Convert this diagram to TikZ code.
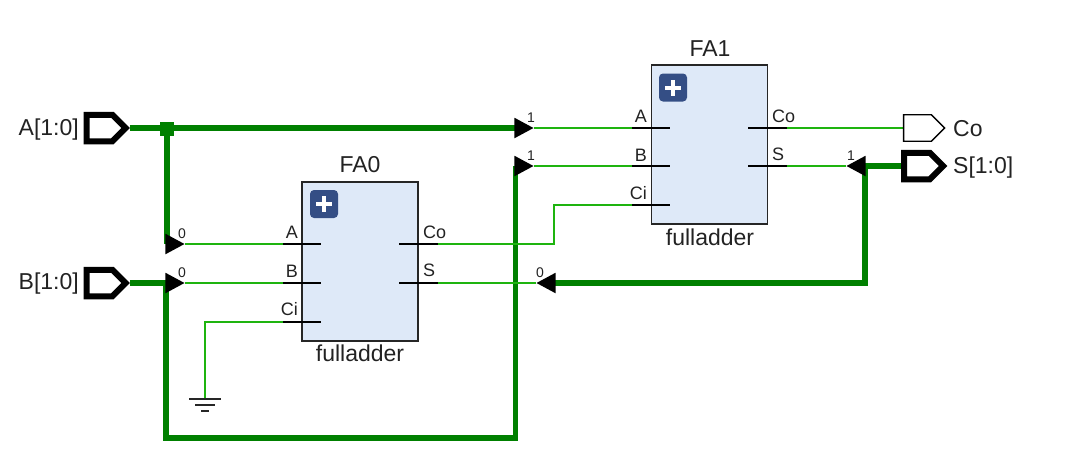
\documentclass[tikz,border=0pt]{standalone}
\usepackage{fontspec}
\setmainfont{Liberation Sans}
\usetikzlibrary{shapes.geometric,shapes.symbols,backgrounds}

\definecolor{busgreen}{RGB}{0,128,0}
\definecolor{wiregreen}{RGB}{30,180,15}
\definecolor{blockblue}{RGB}{222,233,248}
\definecolor{iconblue}{RGB}{52,78,133}
\definecolor{labelgray}{RGB}{34,34,34}

\tikzset{
 bus/.style={line width=5.5pt,color=busgreen},
 wire/.style={line width=2pt,color=wiregreen},
 pinline/.style={line width=2pt,color=black},
 block/.style={draw=black!85,line width=1.6pt,fill=blockblue,inner sep=0pt,minimum width=116pt,minimum height=159pt},
 port/.style={signal,signal to=east,signal from=nowhere,signal pointer angle=90,draw=black,fill=white,inner sep=0pt,minimum height=26.5pt},
 busport/.style={port,line width=6pt,minimum width=39pt},
 wireport/.style={port,line width=1.4pt,minimum width=41pt},
 rip/.style={isosceles triangle,isosceles triangle stretches,fill=black,inner sep=0pt,minimum width=20.5pt,minimum height=19pt},
 junc/.style={rectangle,fill=busgreen,inner sep=0pt,minimum size=14pt},
 icon/.style={rectangle,rounded corners=4pt,fill=iconblue,inner sep=0pt,minimum size=28pt},
 plusbar/.style={line width=4pt,color=white},
 gnd/.style={line width=1.6pt,color=black!85},
 toplabel/.style={color=labelgray,font=\fontsize{23}{24}\selectfont,inner sep=0pt},
 portlabel/.style={color=labelgray,font=\fontsize{23}{24}\selectfont,inner sep=0pt},
 pinlabel/.style={color=labelgray,font=\fontsize{18}{18}\selectfont,inner sep=0pt},
 indexlabel/.style={color=labelgray,font=\fontsize{14}{14}\selectfont,inner sep=0pt}
}

\begin{document}
\begin{tikzpicture}[x=1pt,y=-1pt]
 \useasboundingbox (0,0) rectangle (1087,472);

 % blocks
 \node[block] (fa0) at (360,261.5) {};
 \node[block] (fa1) at (709.5,144.5) {};
 \node[toplabel] (fa0name) at (360,165) {FA0};
 \node[toplabel] (fa1name) at (710,49) {FA1};
 \node[toplabel] (fa0type) at (360,353) {fulladder};
 \node[toplabel] (fa1type) at (710,237) {fulladder};

 % plus icons
 \node[icon] (fa0icon) at (324,204) {};
 \node[icon] (fa1icon) at (673,87.5) {};
 \draw[plusbar] ([xshift=-8pt]fa0icon.center) -- ([xshift=8pt]fa0icon.center);
 \draw[plusbar] ([yshift=-8pt]fa0icon.center) -- ([yshift=8pt]fa0icon.center);
 \draw[plusbar] ([xshift=-8pt]fa1icon.center) -- ([xshift=8pt]fa1icon.center);
 \draw[plusbar] ([yshift=-8pt]fa1icon.center) -- ([yshift=8pt]fa1icon.center);

 % pin ends
 \coordinate (fa0a) at (283,244);
 \coordinate (fa0b) at (283,283);
 \coordinate (fa0ci) at (283,322);
 \coordinate (fa0co) at (438,244);
 \coordinate (fa0s) at (438,283);
 \coordinate (fa1a) at (632,128);
 \coordinate (fa1b) at (632,166);
 \coordinate (fa1ci) at (632,205);
 \coordinate (fa1co) at (787,128);
 \coordinate (fa1s) at (787,166);

 % ports
 \node[busport] (porta) at (99.5,128) {};
 \node[busport] (portb) at (99.5,283) {};
 \node[wireport] (portco) at (917.5,128) {};
 \node[busport] (ports) at (917,166) {};
 \node[portlabel,anchor=east] (portalabel) at (79,130) {A[1:0]};
 \node[portlabel,anchor=east] (portblabel) at (79,284) {B[1:0]};
 \node[portlabel,anchor=west] (portcolabel) at (953,129) {Co};
 \node[portlabel,anchor=west] (portslabel) at (953,168) {S[1:0]};

 % bus rippers
 \node[rip,anchor=apex] (ripa1) at (534,128) {};
 \node[rip,anchor=apex] (ripb1) at (534,166) {};
 \node[rip,anchor=apex] (ripa0) at (185,244) {};
 \node[rip,anchor=apex] (ripb0) at (185,283) {};
 \node[rip,anchor=apex,shape border rotate=180] (rips1) at (846,166) {};
 \node[rip,anchor=apex,shape border rotate=180] (rips0) at (536,283) {};
 \node[junc] (junca) at (167,128.5) {};

 \begin{pgfonlayer}{background}
 % buses
 \draw[bus] (porta.east) -- (ripa1.center);
 \draw[bus] (junca.center) -- (junca.center |- ripa0.apex);
 \draw[bus] (portb.east) -- (ripb0.center);
 \draw[bus] (166,283) -- (166,438) -- (515.5,438) -- (515.5,166);
 \draw[bus] (ports.west) -- (rips1.center);
 \draw[bus] (865,166) -- (865,283) -- (rips0.center);

 % wires
 \draw[wire] (ripa0.apex) -- (fa0a);
 \draw[wire] (ripb0.apex) -- (fa0b);
 \draw[wire] (ripa1.apex) -- (fa1a);
 \draw[wire] (ripb1.apex) -- (fa1b);
 \draw[wire] (fa0s) -- (rips0.apex);
 \draw[wire] (fa1s) -- (rips1.apex);
 \draw[wire] (fa1co) -- (portco.west);
 \draw[wire] (fa0co) -- (554,244) -- (554,205) -- (fa1ci);
 \draw[wire] (fa0ci) -- (205,322) -- (205,399);
 \end{pgfonlayer}

 % ground
 \draw[gnd] (189,399) -- (221,399);
 \draw[gnd] (195,405) -- (215,405);
 \draw[gnd] (201,411) -- (209,411);

 % pin stubs
 \draw[pinline] (fa0a) -- (321,244);
 \draw[pinline] (fa0b) -- (321,283);
 \draw[pinline] (fa0ci) -- (321,322);
 \draw[pinline] (399,244) -- (fa0co);
 \draw[pinline] (399,283) -- (fa0s);
 \draw[pinline] (fa1a) -- (670,128);
 \draw[pinline] (fa1b) -- (670,166);
 \draw[pinline] (fa1ci) -- (670,205);
 \draw[pinline] (748,128) -- (fa1co);
 \draw[pinline] (748,166) -- (fa1s);

 % pin labels
 \node[pinlabel,anchor=east] (fa0alabel) at (298,232) {A};
 \node[pinlabel,anchor=east] (fa0blabel) at (298,271) {B};
 \node[pinlabel,anchor=east] (fa0cilabel) at (298,309) {Ci};
 \node[pinlabel,anchor=west] (fa0colabel) at (423,232) {Co};
 \node[pinlabel,anchor=west] (fa0slabel) at (423,270) {S};
 \node[pinlabel,anchor=east] (fa1alabel) at (647,116) {A};
 \node[pinlabel,anchor=east] (fa1blabel) at (647,155) {B};
 \node[pinlabel,anchor=east] (fa1cilabel) at (647,193) {Ci};
 \node[pinlabel,anchor=west] (fa1colabel) at (772,116) {Co};
 \node[pinlabel,anchor=west] (fa1slabel) at (772,154) {S};

 % bit numbers
 \node[indexlabel] (ripa0bit) at (182,234) {0};
 \node[indexlabel] (ripb0bit) at (182,273) {0};
 \node[indexlabel] (ripa1bit) at (531,118) {1};
 \node[indexlabel] (ripb1bit) at (531,156) {1};
 \node[indexlabel] (rips0bit) at (540,273) {0};
 \node[indexlabel] (rips1bit) at (851,156) {1};
\end{tikzpicture}
\end{document}
